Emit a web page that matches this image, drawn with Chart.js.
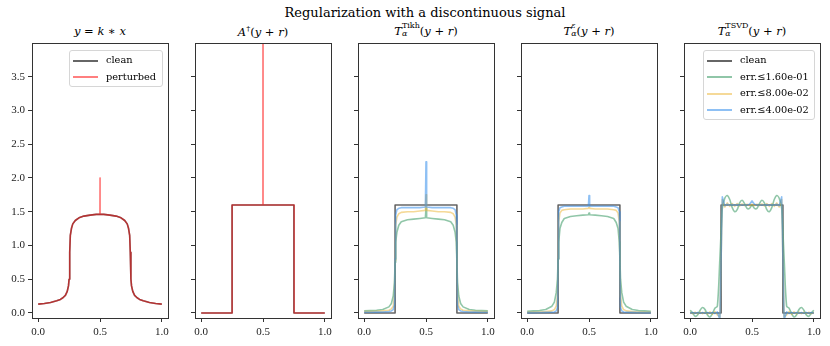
<!DOCTYPE html>
<html>
<head>
<meta charset="utf-8">
<script src="https://cdn.jsdelivr.net/npm/chart.js@4.4.0/dist/chart.umd.min.js"></script>
<style>
  body { margin: 0; background: #fff; width: 830px; height: 346px; overflow: hidden; position: relative;
         font-family: "DejaVu Serif", "Liberation Serif", serif; color: #000; }
  canvas { position: absolute; top: 0; }
  .suptitle { position: absolute; top: 5px; left: 0; width: 850px; text-align: center; font-size: 13px; }
  .ttl { position: absolute; top: 24px; width: 136px; text-align: center; font-size: 11.5px; white-space: nowrap; }
  .ttl i { font-style: italic; }
  .ss { display: inline-block; vertical-align: middle; line-height: 1; text-align: left; font-size: 8px; position: relative; top: -2px; }
  .ss span { display: block; }
  .legend { position: absolute; background: rgba(255,255,255,0.85); border: 1px solid #d6d6d6; border-radius: 3px;
            font-size: 9.8px; padding: 1px 4px 1px 3px; }
  .legend div { height: 16.5px; line-height: 16.5px; white-space: nowrap; }
  .legend b { display: inline-block; width: 25px; height: 0; border-top: 2px solid; vertical-align: middle; margin-right: 8px; }
</style>
</head>
<body>
<div class="suptitle">Regularization with a discontinuous signal</div>
<div class="ttl" style="left:32px"><i>y</i> = <i>k</i> ∗ <i>x</i></div>
<div class="ttl" style="left:195px"><i>A</i><sup style="font-size:8px">†</sup>(<i>y</i> + <i>r</i>)</div>
<div class="ttl" style="left:358px"><i>T</i><span class="ss"><span>Tikh</span><span><i>α</i></span></span>(<i>y</i> + <i>r</i>)</div>
<div class="ttl" style="left:521px"><i>T</i><span class="ss"><span><i>ε</i></span><span><i>α</i></span></span>(<i>y</i> + <i>r</i>)</div>
<div class="ttl" style="left:684px"><i>T</i><span class="ss"><span>TSVD</span><span><i>α</i></span></span>(<i>y</i> + <i>r</i>)</div>

<canvas id="p0" width="175" height="346" style="left:0px"></canvas>
<canvas id="p1" width="175" height="346" style="left:163px"></canvas>
<canvas id="p2" width="175" height="346" style="left:326px"></canvas>
<canvas id="p3" width="175" height="346" style="left:489px"></canvas>
<canvas id="p4" width="175" height="346" style="left:652px"></canvas>
<div id="leg0" class="legend" style="left:69px; top:50px; width:85px"></div>
<div id="leg4" class="legend" style="left:703px; top:50px; width:103px"></div>

<script>
// axis ticks
const xTicks = [0, 0.5, 1.0];
const yTicks = [0, 0.5, 1.0, 1.5, 2.0, 2.5, 3.0, 3.5];

// legend labels
const labels1 = ['clean', 'perturbed'];
const labels5 = ['clean', 'err.\u22641.60e-01', 'err.\u22648.00e-02', 'err.\u22644.00e-02'];

// clean step signal
const xStep = [0, 0.25, 0.25, 0.75, 0.75, 1.0];
const yStep = [0, 0, 1.6, 1.6, 0, 0];

// panel 1: blurred signal y = k*x
const xBlur = [0, 0.05, 0.1, 0.15, 0.18, 0.2, 0.22, 0.235, 0.245, 0.25, 0.255, 0.26, 0.27, 0.28, 0.3, 0.33, 0.37, 0.42, 0.47, 0.5,
               0.53, 0.58, 0.63, 0.67, 0.7, 0.72, 0.73, 0.74, 0.745, 0.75, 0.755, 0.765, 0.78, 0.8, 0.82, 0.85, 0.9, 0.95, 1.0];
const yBlur = [0.13, 0.14, 0.155, 0.18, 0.2, 0.225, 0.26, 0.32, 0.4, 0.5, 0.9, 1.15, 1.26, 1.32, 1.37, 1.41, 1.435, 1.45, 1.46, 1.46,
               1.46, 1.45, 1.435, 1.41, 1.37, 1.32, 1.26, 1.15, 0.9, 0.5, 0.4, 0.32, 0.26, 0.225, 0.2, 0.18, 0.155, 0.14, 0.13];
const xBlurP = [0, 0.05, 0.1, 0.15, 0.18, 0.2, 0.22, 0.235, 0.245, 0.25, 0.255, 0.26, 0.27, 0.28, 0.3, 0.33, 0.37, 0.42, 0.47, 0.499, 0.5, 0.501,
                0.53, 0.58, 0.63, 0.67, 0.7, 0.72, 0.73, 0.74, 0.745, 0.75, 0.755, 0.765, 0.78, 0.8, 0.82, 0.85, 0.9, 0.95, 1.0];
const yBlurP = [0.13, 0.14, 0.155, 0.18, 0.2, 0.225, 0.26, 0.32, 0.4, 0.5, 0.9, 1.15, 1.26, 1.32, 1.37, 1.41, 1.435, 1.45, 1.46, 1.46, 2.0, 1.46,
                1.46, 1.45, 1.435, 1.41, 1.37, 1.32, 1.26, 1.15, 0.9, 0.5, 0.4, 0.32, 0.26, 0.225, 0.2, 0.18, 0.155, 0.14, 0.13];

// panel 2: naive inverse
const xNaive = [0, 0.25, 0.25, 0.499, 0.5, 0.501, 0.752, 0.752, 1.0];
const yNaive = [0, 0, 1.6, 1.6, 9.0, 1.6, 1.6, 0, 0];

// panels 3 and 4: smooth reconstructions
const xReg = [0, 0.05, 0.1, 0.15, 0.2, 0.22, 0.235, 0.245, 0.25, 0.255, 0.265, 0.28, 0.3, 0.35, 0.4, 0.45, 0.495, 0.5,
              0.505, 0.55, 0.6, 0.65, 0.7, 0.72, 0.735, 0.745, 0.75, 0.755, 0.765, 0.78, 0.8, 0.85, 0.9, 0.95, 1.0];
const tikhHigh = [0.03, 0.035, 0.04, 0.05, 0.09, 0.14, 0.25, 0.45, 0.75, 1.05, 1.2, 1.3, 1.35, 1.38, 1.39, 1.4, 1.41, 1.55,
                  1.41, 1.4, 1.39, 1.38, 1.35, 1.3, 1.2, 1.05, 0.75, 0.45, 0.25, 0.14, 0.09, 0.05, 0.04, 0.035, 0.03];
const tikhMid = [0.02, 0.02, 0.025, 0.03, 0.04, 0.06, 0.1, 0.25, 0.78, 1.3, 1.42, 1.47, 1.49, 1.5, 1.5, 1.51, 1.52, 1.75,
                 1.52, 1.51, 1.5, 1.5, 1.49, 1.47, 1.42, 1.3, 0.78, 0.25, 0.1, 0.06, 0.04, 0.03, 0.025, 0.02, 0.02];
const tikhLow = [0.01, 0.01, 0.012, 0.015, 0.02, 0.03, 0.05, 0.12, 0.8, 1.45, 1.53, 1.55, 1.56, 1.56, 1.56, 1.56, 1.57, 2.24,
                 1.57, 1.56, 1.56, 1.56, 1.56, 1.55, 1.53, 1.45, 0.8, 0.12, 0.05, 0.03, 0.02, 0.015, 0.012, 0.01, 0.01];
const epsHigh = [0.025, 0.03, 0.035, 0.05, 0.1, 0.16, 0.3, 0.5, 0.8, 1.05, 1.25, 1.34, 1.4, 1.43, 1.44, 1.45, 1.455, 1.48,
                 1.455, 1.45, 1.44, 1.43, 1.4, 1.34, 1.25, 1.05, 0.8, 0.5, 0.3, 0.16, 0.1, 0.05, 0.035, 0.03, 0.025];
const epsMid = [0.01, 0.012, 0.015, 0.02, 0.03, 0.05, 0.1, 0.25, 0.8, 1.35, 1.48, 1.52, 1.53, 1.54, 1.54, 1.54, 1.55, 1.57,
                1.55, 1.54, 1.54, 1.54, 1.53, 1.52, 1.48, 1.35, 0.8, 0.25, 0.1, 0.05, 0.03, 0.02, 0.015, 0.012, 0.01];
const epsLow = [0.005, 0.005, 0.006, 0.008, 0.01, 0.015, 0.03, 0.08, 0.8, 1.5, 1.56, 1.57, 1.58, 1.58, 1.58, 1.58, 1.58, 1.74,
                1.58, 1.58, 1.58, 1.58, 1.58, 1.57, 1.56, 1.5, 0.8, 0.08, 0.03, 0.015, 0.01, 0.008, 0.006, 0.005, 0.005];

// panel 5: truncated SVD
const xSvd = [0, 0.02, 0.04, 0.06, 0.08, 0.1, 0.12, 0.14, 0.16, 0.18, 0.2, 0.22, 0.24, 0.25, 0.26, 0.28, 0.3, 0.32, 0.34, 0.36, 0.38,
              0.4, 0.42, 0.44, 0.46, 0.48, 0.5, 0.52, 0.54, 0.56, 0.58, 0.6, 0.62, 0.64, 0.66, 0.68, 0.7, 0.72, 0.74, 0.75, 0.76,
              0.78, 0.8, 0.82, 0.84, 0.86, 0.88, 0.9, 0.92, 0.94, 0.96, 0.98, 1.0];
const svdHigh = [0.04, 0.0, -0.05, -0.03, 0.04, 0.08, 0.05, -0.03, -0.06, -0.01, 0.07, 0.1, 0.8, 1.2, 1.55, 1.7, 1.74, 1.68, 1.56, 1.5, 1.53,
                 1.63, 1.67, 1.62, 1.55, 1.55, 1.6, 1.55, 1.55, 1.62, 1.67, 1.63, 1.53, 1.5, 1.56, 1.68, 1.74, 1.7, 1.55, 1.2, 0.8,
                 0.1, 0.07, -0.01, -0.06, -0.03, 0.05, 0.08, 0.04, -0.03, -0.05, 0.0, 0.04];
const svdMid = [0.01, -0.01, 0.01, -0.01, 0.01, -0.01, 0.01, -0.015, 0.015, -0.02, 0.02, -0.03, -0.06, 0.8, 1.68, 1.57, 1.63, 1.58, 1.62, 1.58, 1.62,
                1.585, 1.615, 1.59, 1.61, 1.59, 1.61, 1.59, 1.61, 1.59, 1.615, 1.585, 1.62, 1.58, 1.62, 1.58, 1.63, 1.57, 1.68, 0.8, -0.06,
                -0.03, 0.02, -0.02, 0.015, -0.015, 0.01, -0.01, 0.01, -0.01, 0.01, -0.01, 0.01];
const svdLow = [0.0, 0.005, -0.005, 0.005, -0.005, 0.005, -0.005, 0.005, -0.005, 0.008, -0.008, 0.015, -0.1, 0.8, 1.72, 1.59, 1.61, 1.595, 1.605, 1.595, 1.605,
                1.6, 1.6, 1.6, 1.6, 1.61, 1.66, 1.61, 1.6, 1.6, 1.6, 1.6, 1.605, 1.595, 1.605, 1.595, 1.61, 1.59, 1.72, 0.8, -0.1,
                0.015, -0.008, 0.008, -0.005, 0.005, -0.005, 0.005, -0.005, 0.005, -0.005, 0.005, 0.0];

const C_CLEAN = 'rgba(0,0,0,0.6)';
const C_PERT = 'rgba(255,0,0,0.5)';
const C_GREEN = 'rgba(70,160,110,0.6)';
const C_YELLOW = 'rgba(235,180,50,0.5)';
const C_BLUE = 'rgba(50,140,235,0.55)';

function pts(xs, ys) {
    return xs.map((x, i) => ({ x: x, y: ys[i] }));
}

function line(label, xs, ys, color, order, tension) {
    return {
        label: label,
        data: pts(xs, ys),
        borderColor: color,
        borderWidth: 1.6,
        borderJoinStyle: 'round',
        pointRadius: 0,
        tension: tension || 0,
        fill: false,
        order: order
    };
}

const frame = {
    id: 'frame',
    afterDraw(chart) {
        const a = chart.chartArea;
        const ctx = chart.ctx;
        ctx.save();
        ctx.strokeStyle = '#333';
        ctx.lineWidth = 1;
        ctx.strokeRect(Math.round(a.left) + 0.5, Math.round(a.top) + 0.5,
                       Math.round(a.right - a.left), Math.round(a.bottom - a.top));
        ctx.restore();
    }
};

function makePanel(id, datasets, showY) {
    const tickFont = { family: '"Liberation Serif", "DejaVu Serif", serif', size: 11 };
    new Chart(document.getElementById(id), {
        type: 'line',
        data: { datasets: datasets },
        options: {
            responsive: false,
            animation: false,
            devicePixelRatio: 1,
            layout: { padding: { top: 43, right: 7, left: 0, bottom: 0 } },
            plugins: { legend: { display: false }, tooltip: { enabled: false } },
            scales: {
                x: {
                    type: 'linear', min: -0.05, max: 1.05,
                    afterBuildTicks: s => { s.ticks = xTicks.map(v => ({ value: v })); },
                    afterFit: s => { s.height = 28; },
                    grid: { drawOnChartArea: false, drawTicks: true, tickLength: 4, tickColor: '#333' },
                    border: { display: false },
                    ticks: { color: '#222', font: tickFont, padding: 4, maxRotation: 0,
                             callback: v => v.toFixed(1) }
                },
                y: {
                    type: 'linear', min: -0.075, max: 4.0,
                    afterBuildTicks: s => { s.ticks = yTicks.map(v => ({ value: v })); },
                    afterFit: s => { s.width = 32; },
                    grid: { drawOnChartArea: false, drawTicks: true, tickLength: 4, tickColor: '#333' },
                    border: { display: false },
                    ticks: { color: '#222', font: tickFont, padding: 3,
                             callback: v => showY ? v.toFixed(1) : '' }
                }
            }
        },
        plugins: [frame]
    });
}

makePanel('p0', [
    line(labels1[0], xBlur, yBlur, C_CLEAN, 2),
    line(labels1[1], xBlurP, yBlurP, C_PERT, 1)
], true);

makePanel('p1', [
    line(labels1[0], xStep, yStep, C_CLEAN, 2),
    line(labels1[1], xNaive, yNaive, C_PERT, 1)
], false);

makePanel('p2', [
    line(labels5[0], xStep, yStep, C_CLEAN, 4),
    line(labels5[1], xReg, tikhHigh, C_GREEN, 3),
    line(labels5[2], xReg, tikhMid, C_YELLOW, 2),
    line(labels5[3], xReg, tikhLow, C_BLUE, 1)
], false);

makePanel('p3', [
    line(labels5[0], xStep, yStep, C_CLEAN, 4),
    line(labels5[1], xReg, epsHigh, C_GREEN, 3),
    line(labels5[2], xReg, epsMid, C_YELLOW, 2),
    line(labels5[3], xReg, epsLow, C_BLUE, 1)
], false);

makePanel('p4', [
    line(labels5[0], xStep, yStep, C_CLEAN, 4),
    line(labels5[1], xSvd, svdHigh, C_GREEN, 3, 0.3),
    line(labels5[2], xSvd, svdMid, C_YELLOW, 2),
    line(labels5[3], xSvd, svdLow, C_BLUE, 1)
], false);

function legend(id, names, colors) {
    document.getElementById(id).innerHTML = names.map((n, i) =>
        '<div><b style="border-color:' + colors[i] + '"></b>' + n + '</div>').join('');
}
legend('leg0', labels1, [C_CLEAN, C_PERT]);
legend('leg4', labels5, [C_CLEAN, C_GREEN, C_YELLOW, C_BLUE]);
</script>
</body>
</html>
